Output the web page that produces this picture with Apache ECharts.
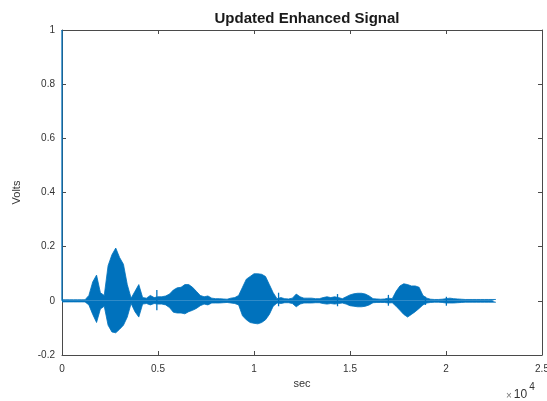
<!DOCTYPE html>
<html>
<head>
<meta charset="utf-8">
<script src="https://cdn.jsdelivr.net/npm/echarts@6/dist/echarts.min.js"></script>
<style>
	html, body { margin: 0; padding: 0; background: #fff; }
	#signal { width: 547px; height: 401px; }
</style>
</head>
<body>
<div id="signal"></div>
<script>
	// envelope of the waveform, one reading every 200 samples
	var envStep = 200;
	var envHigh = [
		0.004, 0.004, 0.004, 0.004, 0.004, 0.004, 0.004, 0.02, 0.07, 0.095,
		0.03, 0.02, 0.13, 0.17, 0.195, 0.16, 0.135, 0.06, 0.01, 0.035,
		0.06, 0.012, 0.01, 0.02, 0.012, 0.015, 0.015, 0.018, 0.025, 0.04,
		0.048, 0.05, 0.06, 0.06, 0.05, 0.035, 0.02, 0.015, 0.018, 0.01,
		0.008, 0.008, 0.007, 0.006, 0.01, 0.012, 0.02, 0.05, 0.08, 0.09,
		0.1, 0.1, 0.098, 0.09, 0.06, 0.03, 0.008, 0.012, 0.008, 0.007,
		0.01, 0.025, 0.015, 0.01, 0.01, 0.01, 0.008, 0.008, 0.012, 0.015,
		0.012, 0.015, 0.012, 0.008, 0.015, 0.022, 0.026, 0.028, 0.028, 0.025,
		0.018, 0.008, 0.007, 0.006, 0.007, 0.01, 0.008, 0.035, 0.055, 0.063,
		0.06, 0.055, 0.055, 0.05, 0.02, 0.01, 0.006, 0.005, 0.005, 0.006,
		0.008, 0.01, 0.008, 0.007, 0.006, 0.005, 0.005, 0.005, 0.005, 0.005,
		0.005, 0.005, 0.005, 0.005
	];
	var envLow = [
		-0.004, -0.004, -0.004, -0.004, -0.004, -0.004, -0.004, -0.015, -0.05, -0.08,
		-0.03, -0.02, -0.09, -0.115, -0.118, -0.105, -0.09, -0.06, -0.01, -0.04,
		-0.06, -0.012, -0.01, -0.015, -0.01, -0.012, -0.012, -0.015, -0.025, -0.042,
		-0.045, -0.045, -0.048, -0.04, -0.035, -0.028, -0.018, -0.012, -0.015, -0.008,
		-0.008, -0.008, -0.007, -0.006, -0.008, -0.01, -0.015, -0.055, -0.07, -0.08,
		-0.083, -0.085, -0.08, -0.07, -0.05, -0.02, -0.008, -0.01, -0.007, -0.007,
		-0.01, -0.022, -0.012, -0.008, -0.008, -0.008, -0.007, -0.007, -0.01, -0.012,
		-0.01, -0.012, -0.01, -0.008, -0.012, -0.018, -0.02, -0.022, -0.022, -0.02,
		-0.015, -0.007, -0.006, -0.006, -0.006, -0.008, -0.007, -0.02, -0.035, -0.05,
		-0.06, -0.05, -0.04, -0.028, -0.015, -0.008, -0.006, -0.005, -0.005, -0.006,
		-0.008, -0.008, -0.008, -0.007, -0.006, -0.005, -0.005, -0.005, -0.005, -0.005,
		-0.005, -0.005, -0.005, -0.005
	];

	// narrow clicks (first one is the impulse at sample 0)
	var spikeSample = [0, 4940, 11280, 14350, 17000, 18930, 20020];
	var spikeHigh = [1, 0.04, 0.03, 0.025, 0.022, 0.015, 0.015];
	var spikeLow = [0, -0.035, -0.02, -0.02, -0.018, -0.015, -0.018];

	var xTicks = [0, 0.5, 1, 1.5, 2, 2.5]; // x 10^4
	var yTicks = [-0.2, 0, 0.2, 0.4, 0.6, 0.8, 1];

	var blue = '#0072BD';
	var axisColor = '#4a4a4a';
	var textColor = '#333333';
	var font = 'Liberation Sans, Arial, sans-serif';

	var highData = envHigh.map(function(v, i) { return [i * envStep, v]; });
	var lowData = envLow.map(function(v, i) { return [i * envStep, v]; });
	var spikeData = spikeSample.map(function(s, i) { return [s, spikeHigh[i], spikeLow[i]]; });

	var chart = echarts.init(document.getElementById('signal'));

	var xBase = {
		type: 'value',
		min: xTicks[0] * 10000,
		max: xTicks[xTicks.length - 1] * 10000,
		interval: 5000,
		splitLine: { show: false },
		axisLine: { show: true, onZero: false, lineStyle: { color: axisColor, width: 1 } },
		axisTick: { show: true, inside: true, length: 4, lineStyle: { color: axisColor } }
	};
	var yBase = {
		type: 'value',
		min: yTicks[0],
		max: yTicks[yTicks.length - 1],
		interval: 0.2,
		splitLine: { show: false },
		axisLine: { show: true, onZero: false, lineStyle: { color: axisColor, width: 1 } },
		axisTick: { show: true, inside: true, length: 4, lineStyle: { color: axisColor } }
	};

	var option = {
		animation: false,
		backgroundColor: '#fff',
		title: {
			text: 'Updated Enhanced Signal',
			left: 302,
			top: 6,
			textAlign: 'center',
			textStyle: { fontSize: 15, fontWeight: 'bold', color: '#1a1a1a', fontFamily: font }
		},
		grid: { left: 62, right: 5, top: 30, bottom: 46, outerBoundsMode: 'none' },
		xAxis: [
			Object.assign({}, xBase, {
				position: 'bottom',
				name: 'sec',
				nameLocation: 'middle',
				nameGap: 23,
				nameTextStyle: { fontSize: 11, color: textColor, fontFamily: font },
				axisLabel: {
					margin: 9,
					fontSize: 10,
					color: textColor,
					fontFamily: font,
					formatter: function(v) { return String(Math.round(v / 1000) / 10); }
				}
			}),
			Object.assign({}, xBase, { position: 'top', axisLabel: { show: false } })
		],
		yAxis: [
			Object.assign({}, yBase, {
				position: 'left',
				name: 'Volts',
				nameLocation: 'middle',
				nameRotate: 90,
				nameGap: 40,
				nameTextStyle: { fontSize: 11, color: textColor, fontFamily: font },
				axisLabel: {
					margin: 7,
					fontSize: 10,
					color: textColor,
					fontFamily: font,
					formatter: function(v) { return String(Math.round(v * 10) / 10); }
				}
			}),
			Object.assign({}, yBase, { position: 'right', axisLabel: { show: false } })
		],
		graphic: [{
			type: 'text',
			left: 506,
			top: 382,
			style: {
				text: '{a|\u00d7}{b|10}{c|4}',
				rich: {
					a: { fontSize: 10, fill: '#777', fontFamily: font, verticalAlign: 'bottom', padding: [0, 2, 0, 0] },
					b: { fontSize: 12, fill: textColor, fontFamily: font, verticalAlign: 'bottom' },
					c: { fontSize: 10, fill: textColor, fontFamily: font, verticalAlign: 'top', padding: [0, 0, 9, 2] }
				}
			}
		}],
		series: [
			{
				name: 'high',
				type: 'line',
				data: highData,
				showSymbol: false,
				smooth: false,
				lineStyle: { color: blue, width: 0.8 },
				areaStyle: { color: blue, opacity: 1 }
			},
			{
				name: 'low',
				type: 'line',
				data: lowData,
				showSymbol: false,
				smooth: false,
				lineStyle: { color: blue, width: 0.8 },
				areaStyle: { color: blue, opacity: 1 }
			},
			{
				name: 'spikes',
				type: 'custom',
				clip: false,
				data: spikeData,
				encode: { x: 0, y: [1, 2] },
				renderItem: function(params, api) {
					var top = api.coord([api.value(0), api.value(1)]);
					var bottom = api.coord([api.value(0), api.value(2)]);
					return {
						type: 'line',
						shape: { x1: top[0], y1: top[1], x2: bottom[0], y2: bottom[1] },
						style: { stroke: blue, lineWidth: 1.3 }
					};
				}
			}
		]
	};

	chart.setOption(option);
	window.addEventListener('resize', function() {
		chart.resize();
	});
</script>
</body>
</html>
